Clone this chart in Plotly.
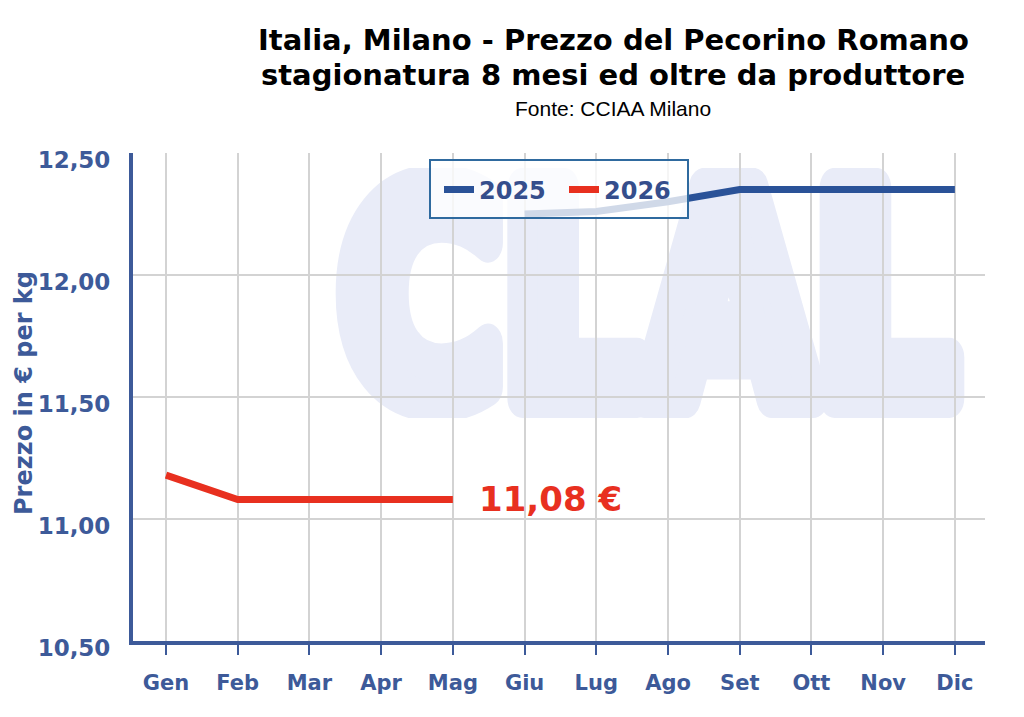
import base64
import plotly.graph_objects as go

# dati
mesi = ["Gen", "Feb", "Mar", "Apr", "Mag", "Giu", "Lug", "Ago", "Set", "Ott", "Nov", "Dic"]
prezzi_2025 = [None, None, None, None, None, 12.25, 12.26, 12.30, 12.35, 12.35, 12.35, 12.35]
prezzi_2026 = [11.18, 11.08, 11.08, 11.08, 11.08]
ultimo_prezzo = "11,08 €"
y_ticks = [10.5, 11.0, 11.5, 12.0, 12.5]
y_labels = ["10,50", "11,00", "11,50", "12,00", "12,50"]

BLU = "#2a5298"
ROSSO = "#e8301f"
BLU_TESTO = "#3d5a99"
FONT = "DejaVu Sans"

# watermark CLAL (svg stirato sull'area del grafico)
svg = (
    '<svg xmlns="http://www.w3.org/2000/svg" width="1000" height="382" viewBox="0 0 1000 382">'
    '<text x="30" y="352" font-family="DejaVu Sans" font-weight="bold" font-size="442" '
    'fill="#e9ecf8" stroke="#e9ecf8" stroke-width="60" stroke-linejoin="round" '
    'textLength="940" lengthAdjust="spacingAndGlyphs">CLAL</text></svg>'
)
svg_uri = "data:image/svg+xml;base64," + base64.b64encode(svg.encode()).decode()


def py(pix):
    # pixel verticale -> coordinate paper (asse x a 641, altezza 488)
    return (641 - pix) / 488


def px(pix):
    return (pix - 133) / 852


fig = go.Figure()
fig.add_trace(go.Scatter(x=mesi, y=prezzi_2025, mode="lines", name="<b>2025</b>",
                         line=dict(color=BLU, width=7), connectgaps=False))
fig.add_trace(go.Scatter(x=mesi[:len(prezzi_2026)], y=prezzi_2026, mode="lines", name="<b>2026</b>",
                         line=dict(color=ROSSO, width=7)))

fig.add_annotation(x=mesi[len(prezzi_2026) - 1], y=prezzi_2026[-1], text=f"<b>{ultimo_prezzo}</b>",
                   showarrow=False, xanchor="left", yanchor="middle", xshift=24,
                   font=dict(family=FONT, size=34, color=ROSSO))

# titolo
fig.add_annotation(xref="paper", yref="paper", x=px(613), y=py(40),
                   text="<b>Italia, Milano - Prezzo del Pecorino Romano</b>", showarrow=False,
                   font=dict(family=FONT, size=29, color="black"), yanchor="middle")
fig.add_annotation(xref="paper", yref="paper", x=px(613), y=py(75),
                   text="<b>stagionatura 8 mesi ed oltre da produttore</b>", showarrow=False,
                   font=dict(family=FONT, size=29, color="black"), yanchor="middle")
fig.add_annotation(xref="paper", yref="paper", x=px(613), y=py(108),
                   text="Fonte: CCIAA Milano", showarrow=False,
                   font=dict(family="Liberation Sans", size=21, color="black"), yanchor="middle")

# titolo asse y
fig.add_annotation(xref="paper", yref="paper", x=px(24), y=py(393),
                   text="<b>Prezzo in € per kg</b>", showarrow=False, textangle=-90,
                   xanchor="center", yanchor="middle",
                   font=dict(family=FONT, size=24, color=BLU_TESTO))

fig.add_layout_image(dict(source=svg_uri, xref="paper", yref="paper", x=px(320), y=py(168),
                          sizex=655 / 852, sizey=250 / 488, sizing="stretch", xanchor="left",
                          yanchor="top", layer="below"))

# riquadro legenda semitrasparente sopra le linee
fig.add_shape(type="rect", xref="paper", yref="paper", x0=px(430), x1=px(688), y0=py(218), y1=py(160),
              line=dict(color="#2f6a9f", width=2), fillcolor="rgba(255,255,255,0.78)", layer="above")

fig.update_layout(
    width=1024, height=717,
    margin=dict(l=125, r=47, t=145, b=84),
    paper_bgcolor="white", plot_bgcolor="white",
    showlegend=True,
    legend=dict(orientation="h", x=px(439), y=py(190), xanchor="left", yanchor="middle",
                bgcolor="rgba(0,0,0,0)", borderwidth=0, entrywidth=80,
                font=dict(family=FONT, size=24, color="#354e8c"), itemwidth=30),
    xaxis=dict(range=[-0.46, 11.42], showgrid=True, gridcolor="#d3d3d3", gridwidth=2,
               showline=True, linecolor=BLU_TESTO, linewidth=4, automargin=False,
               ticks="outside", tickcolor=BLU_TESTO, ticklen=10, tickwidth=2, ticklabelstandoff=10,
               tickfont=dict(family=FONT, size=21, color=BLU_TESTO),
               tickprefix="<b>", ticksuffix="</b>", zeroline=False),
    yaxis=dict(range=[10.5, 12.5], tickvals=y_ticks, ticktext=[f"<b>{t}</b>" for t in y_labels],
               showgrid=True, gridcolor="#d3d3d3", gridwidth=2, automargin=False,
               showline=True, linecolor=BLU_TESTO, linewidth=4, ticks="", ticklabelstandoff=14,
               ticklabelshift=7,
               tickfont=dict(family=FONT, size=23, color=BLU_TESTO), zeroline=False),
)

fig.write_html("out.html")
